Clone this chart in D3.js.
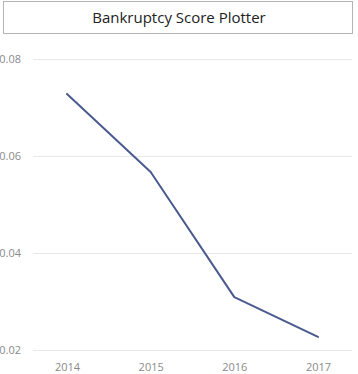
<!DOCTYPE html>
<html>
<head>
<meta charset="utf-8">
<script src="https://cdn.jsdelivr.net/npm/d3@7"></script>
<style>
  body { margin: 0; background: #fff; }
  svg { display: block; font-family: "Open Sans", "Noto Sans", sans-serif; }
</style>
</head>
<body>
<div id="chart"></div>
<script>
// data
const years = ["2014", "2015", "2016", "2017"];
const scores = [0.0728, 0.0567, 0.0309, 0.0227];
const yTicks = [0.02, 0.04, 0.06, 0.08];

const W = 358, H = 374;

const svg = d3.select("#chart")
  .append("svg")
    .attr("width", W)
    .attr("height", H);

// title box
svg.append("rect")
  .attr("x", 3.5).attr("y", 1.5)
  .attr("width", 349).attr("height", 32)
  .attr("fill", "#fff")
  .attr("stroke", "#b4b4b4");

svg.append("text")
  .attr("x", 179).attr("y", 23)
  .attr("text-anchor", "middle")
  .attr("font-size", 15)
  .attr("fill", "#222")
  .text("Bankruptcy Score Plotter");

const x = d3.scalePoint()
  .domain(years)
  .range([67, 318]);

const y = d3.scaleLinear()
  .domain([0.02, 0.08])
  .range([350, 59]);

// gridlines + y labels
const yAxis = svg.append("g")
  .call(d3.axisLeft(y).tickValues(yTicks).tickFormat(d3.format(".2f")).tickSize(0))
  .call(g => g.select(".domain").remove());
yAxis.selectAll("text")
  .attr("x", 21)
  .attr("font-size", 11)
  .attr("fill", "#8a8a8a")
  .attr("font-family", "'Open Sans', 'Noto Sans', sans-serif");
yAxis.selectAll(".tick line")
  .attr("x1", 33).attr("x2", 352)
  .attr("stroke", "#e8e8e8");

// x labels
const xAxis = svg.append("g")
  .attr("transform", "translate(0,358)")
  .call(d3.axisBottom(x).tickSize(0))
  .call(g => g.select(".domain").remove());
xAxis.selectAll("text")
  .attr("y", 5)
  .attr("font-size", 11)
  .attr("fill", "#8a8a8a")
  .attr("font-family", "'Open Sans', 'Noto Sans', sans-serif");

// line
const line = d3.line()
  .x((d, i) => x(years[i]))
  .y(d => y(d));

svg.append("path")
  .datum(scores)
  .attr("d", line)
  .attr("fill", "none")
  .attr("stroke", "#4a5a8e")
  .attr("stroke-width", 2)
  .attr("stroke-linejoin", "round")
  .attr("stroke-linecap", "round");
</script>
</body>
</html>
